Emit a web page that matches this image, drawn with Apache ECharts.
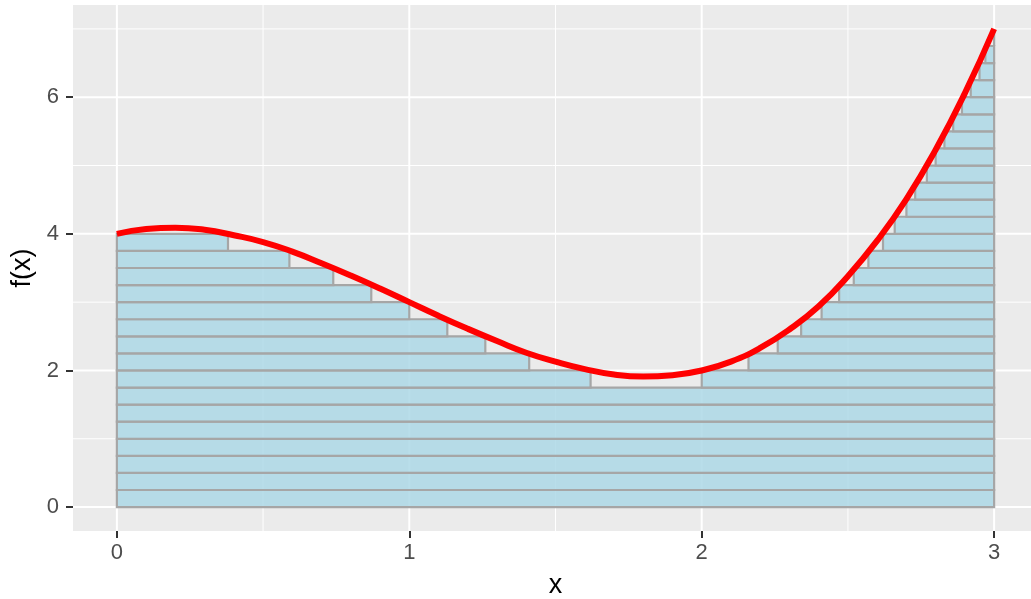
<!DOCTYPE html>
<html>
<head>
<meta charset="utf-8">
<script src="https://cdn.jsdelivr.net/npm/echarts@6/dist/echarts.min.js"></script>
<style>
html,body{margin:0;padding:0;background:#fff;}
#chart{width:1031px;height:599px;}
</style>
</head>
<body>
<div id="chart"></div>
<script>
// Curve f(x)
const curveX = [0.0,0.1,0.2,0.3,0.4,0.5,0.6,0.7,0.8,0.9,1.0,1.1,1.2,1.3,1.4,1.5,1.6,1.7,1.8,1.9,2.0,2.1,2.2,2.3,2.4,2.5,2.6,2.7,2.8,2.9,3.0];
const curveY = [4.00,4.07,4.09,4.06,3.98,3.88,3.74,3.57,3.39,3.20,3.00,2.80,2.61,2.43,2.26,2.13,2.02,1.94,1.91,1.93,2.00,2.13,2.33,2.60,2.94,3.38,3.90,4.51,5.23,6.06,7.00];

// Horizontal strips (bottom value, top value, end of left piece, start of right piece)
const stripBottoms = [0,0.25,0.5,0.75,1,1.25,1.5,1.75,2,2.25,2.5,2.75,3,3.25,3.5,3.75,4,4.25,4.5,4.75,5,5.25,5.5,5.75,6,6.25,6.5,6.75];
const stripTops    = [0.25,0.5,0.75,1,1.25,1.5,1.75,2,2.25,2.5,2.75,3,3.25,3.5,3.75,4,4.25,4.5,4.75,5,5.25,5.5,5.75,6,6.25,6.5,6.75,7];
const leftEnds    = [3,3,3,3,3,3,3,1.62,1.41,1.26,1.13,1.00,0.87,0.74,0.59,0.38,null,null,null,null,null,null,null,null,null,null,null,null];
const rightStarts = [null,null,null,null,null,null,null,2.00,2.16,2.26,2.34,2.41,2.47,2.52,2.57,2.62,2.66,2.70,2.73,2.77,2.80,2.83,2.86,2.89,2.92,2.95,2.97,3.00];
const xLeft = 0, xRight = 3;

// Axis ticks and grid lines
const xTicks = [0,1,2,3];
const yTicks = [0,2,4,6];
const xMinor = [0.5,1.5,2.5];
const yMinor = [1,3,5,7];

const stripData = [];
stripBottoms.forEach((b,i)=>{
  if (leftEnds[i] !== null) stripData.push([xLeft, leftEnds[i], b, stripTops[i]]);
  if (rightStarts[i] !== null) stripData.push([rightStarts[i], xRight, b, stripTops[i]]);
});
const curveData = curveX.map((x,i)=>[x, curveY[i]]);
const gridData = [];
xTicks.forEach(v=>gridData.push([0,v,2]));
xMinor.forEach(v=>gridData.push([0,v,1]));
yTicks.forEach(v=>gridData.push([1,v,2]));
yMinor.forEach(v=>gridData.push([1,v,1]));

const FONT = '"Liberation Sans", Arial, Helvetica, sans-serif';
const chart = echarts.init(document.getElementById('chart'), null, {renderer:'canvas'});
chart.setOption({
  animation:false,
  grid:{left:73, top:5, width:965, height:526, show:true, backgroundColor:'#EBEBEB', borderWidth:0,
        containLabel:false, outerBoundsMode:'none'},
  xAxis:{
    type:'value', min:-0.15, max:3.15,
    axisLine:{show:false, onZero:false},
    splitLine:{show:false},
    axisTick:{show:true, length:7, customValues:xTicks, lineStyle:{color:'#333333', width:2}},
    axisLabel:{customValues:xTicks, margin:11, color:'#4D4D4D', fontSize:22, fontFamily:FONT},
    name:'x', nameLocation:'middle', nameGap:41,
    nameTextStyle:{color:'#000', fontSize:27, fontFamily:FONT}
  },
  yAxis:{
    type:'value', min:-0.35, max:7.35,
    axisLine:{show:false, onZero:false},
    splitLine:{show:false},
    axisTick:{show:true, length:7, customValues:yTicks, lineStyle:{color:'#333333', width:2}},
    axisLabel:{customValues:yTicks, margin:14, color:'#4D4D4D', fontSize:22, fontFamily:FONT},
    name:'f(x)', nameLocation:'middle', nameGap:35,
    nameTextStyle:{color:'#000', fontSize:27, fontFamily:FONT}
  },
  series:[
    {
      type:'custom', z:1, silent:true,
      data:gridData,
      encode:{x:-1, y:-1},
      renderItem:function(params, api){
        const cs = params.coordSys;
        const kind = api.value(0), v = api.value(1), w = api.value(2);
        if (kind === 0) {
          const x = api.coord([v, 0])[0];
          return {type:'line', shape:{x1:x, y1:cs.y, x2:x, y2:cs.y+cs.height}, style:{stroke:'#FFFFFF', lineWidth:w}};
        } else {
          const y = api.coord([0, v])[1];
          return {type:'line', shape:{x1:cs.x, y1:y, x2:cs.x+cs.width, y2:y}, style:{stroke:'#FFFFFF', lineWidth:w}};
        }
      }
    },
    {
      type:'custom', z:2, silent:true,
      data:stripData,
      encode:{x:[0,1], y:[2,3]},
      renderItem:function(params, api){
        const p0 = api.coord([api.value(0), api.value(3)]);
        const p1 = api.coord([api.value(1), api.value(2)]);
        return {type:'rect',
          shape:{x:p0[0], y:p0[1], width:p1[0]-p0[0], height:p1[1]-p0[1]},
          style:{fill:'rgba(173,216,230,0.85)', stroke:'#A6A6A6', lineWidth:2.2}};
      }
    },
    {
      type:'line', z:3, silent:true,
      data:curveData, smooth:true, showSymbol:false, symbol:'none',
      lineStyle:{color:'#FF0000', width:6, cap:'butt'}
    }
  ]
});
</script>
</body>
</html>
